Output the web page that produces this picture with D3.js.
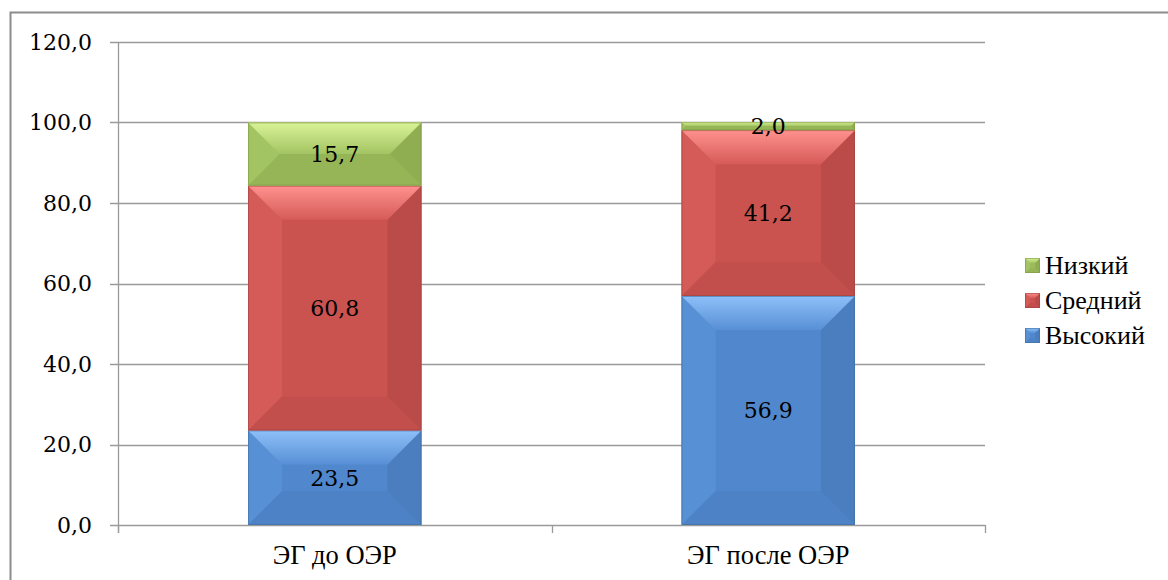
<!DOCTYPE html>
<html>
<head>
<meta charset="utf-8">
<script src="https://cdn.jsdelivr.net/npm/d3@7"></script>
<style>
  body { margin: 0; background: #fff; }
  svg { display: block; }
</style>
</head>
<body>
<svg id="chart" width="1168" height="580"></svg>
<script>
// data
const categories = ['ЭГ до ОЭР', 'ЭГ после ОЭР'];
const seriesNames = ['Высокий', 'Средний', 'Низкий'];
const vysokiy = [23.5, 56.9];
const sredniy = [60.8, 41.2];
const nizkiy = [15.7, 2.0];
const yTicks = [0, 20, 40, 60, 80, 100, 120];

const colors = {
    'Высокий': { base: '#5188cd', light: '#8ec0f8', side: '#5890d6', dark: '#4a7ebf', edge: '#41709f' },
    'Средний': { base: '#ca5350', light: '#ff918e', side: '#d55b58', dark: '#bb4b48', edge: '#a04240' },
    'Низкий':  { base: '#9cbc5a', light: '#d9f397', side: '#a3c462', dark: '#8fae51', edge: '#7d9a45' }
};

const numFont = 'DejaVu Serif';
const textFont = 'Liberation Serif';

const svg = d3.select('#chart');

// outer chart border (runs off the right and bottom of the picture)
svg.append('rect')
    .attr('x', 10.5).attr('y', 12.5)
    .attr('width', 1200).attr('height', 600)
    .attr('fill', 'none')
    .attr('stroke', '#8c8c8c')
    .attr('stroke-width', 2);

const x = d3.scaleBand()
    .domain(categories)
    .range([118, 985])
    .paddingInner(0.6)
    .paddingOuter(0.3);

const y = d3.scaleLinear()
    .domain([0, 120])
    .range([525, 42]);

const gridColor = '#9a9a9a';

// gridlines
svg.append('g')
    .selectAll('line')
    .data(yTicks)
    .join('line')
    .attr('x1', 110).attr('x2', 985)
    .attr('y1', d => Math.round(y(d)) + 0.5)
    .attr('y2', d => Math.round(y(d)) + 0.5)
    .attr('stroke', gridColor)
    .attr('stroke-width', 1.3);

// y axis line
svg.append('line')
    .attr('x1', 118.5).attr('x2', 118.5)
    .attr('y1', y(120)).attr('y2', 533)
    .attr('stroke', gridColor)
    .attr('stroke-width', 1.3);

// category separators on x axis
const sepX = [118, 118 + (985 - 118) / 2, 985];
svg.append('g')
    .selectAll('line')
    .data(sepX)
    .join('line')
    .attr('x1', d => Math.round(d) + 0.5).attr('x2', d => Math.round(d) + 0.5)
    .attr('y1', y(0)).attr('y2', 533)
    .attr('stroke', gridColor)
    .attr('stroke-width', 1.3);

// y tick labels
svg.append('g')
    .selectAll('text')
    .data(yTicks)
    .join('text')
    .attr('x', 92)
    .attr('y', d => y(d))
    .attr('dy', '0.36em')
    .attr('text-anchor', 'end')
    .attr('font-family', numFont)
    .attr('font-size', 22)
    .attr('fill', '#000')
    .text(d => d.toFixed(1).replace('.', ','));

// category labels
svg.append('g')
    .selectAll('text')
    .data(categories)
    .join('text')
    .attr('x', d => x(d) + x.bandwidth() / 2)
    .attr('y', 564)
    .attr('text-anchor', 'middle')
    .attr('font-family', textFont)
    .attr('font-size', 26.5)
    .attr('fill', '#000')
    .text(d => d);

// stacked data
const rows = categories.map((c, i) => ({
    category: c,
    'Высокий': vysokiy[i],
    'Средний': sredniy[i],
    'Низкий': nizkiy[i]
}));
const stacked = d3.stack().keys(seriesNames)(rows);

// gradients for the top bevel facet
const defs = svg.append('defs');
seriesNames.forEach((name, i) => {
    const g = defs.append('linearGradient')
        .attr('id', 'top' + i)
        .attr('x1', 0).attr('y1', 0).attr('x2', 0).attr('y2', 1);
    g.append('stop').attr('offset', '0%').attr('stop-color', colors[name].light);
    g.append('stop').attr('offset', '100%').attr('stop-color', colors[name].side);
});

function bevelBar(g, x0, y0, x1, y1, c, gradId, maxB) {
    const w = x1 - x0, h = y1 - y0;
    const b = Math.min(maxB, h / 2, w / 2);
    const pts = a => a.map(p => p.join(',')).join(' ');
    g.append('rect')
        .attr('x', x0).attr('y', y0).attr('width', w).attr('height', h)
        .attr('fill', c.base);
    g.append('polygon')
        .attr('points', pts([[x0, y0], [x0 + b, y0 + b], [x0 + b, y1 - b], [x0, y1]]))
        .attr('fill', c.side);
    g.append('polygon')
        .attr('points', pts([[x1, y0], [x1 - b, y0 + b], [x1 - b, y1 - b], [x1, y1]]))
        .attr('fill', c.dark);
    g.append('polygon')
        .attr('points', pts([[x0, y1], [x1, y1], [x1 - b, y1 - b], [x0 + b, y1 - b]]))
        .attr('fill', c.dark)
        .attr('opacity', 0.5);
    g.append('polygon')
        .attr('points', pts([[x0, y0], [x1, y0], [x1 - b, y0 + b], [x0 + b, y0 + b]]))
        .attr('fill', 'url(#' + gradId + ')');
    g.append('rect')
        .attr('x', x0 + 0.5).attr('y', y0 + 0.5).attr('width', w - 1).attr('height', h - 1)
        .attr('fill', 'none')
        .attr('stroke', c.edge)
        .attr('stroke-opacity', 0.6);
}

const bars = svg.append('g');
stacked.forEach((layer, si) => {
    const name = seriesNames[si];
    layer.forEach(d => {
        const x0 = x(d.data.category);
        const x1 = x0 + x.bandwidth();
        bevelBar(bars, x0, y(d[1]), x1, y(d[0]), colors[name], 'top' + si, 34);
    });
});

// value labels
stacked.forEach((layer, si) => {
    svg.append('g')
        .selectAll('text')
        .data(layer)
        .join('text')
        .attr('x', d => x(d.data.category) + x.bandwidth() / 2)
        .attr('y', d => (y(d[0]) + y(d[1])) / 2)
        .attr('dy', '0.36em')
        .attr('text-anchor', 'middle')
        .attr('font-family', numFont)
        .attr('font-size', 22)
        .attr('fill', '#000')
        .text(d => (d[1] - d[0]).toFixed(1).replace('.', ','));
});

// legend (top to bottom: Низкий, Средний, Высокий)
const legendItems = seriesNames.slice().reverse();
const legend = svg.append('g');
legendItems.forEach((name, i) => {
    const cy = 265 + i * 35;
    const gi = seriesNames.indexOf(name);
    bevelBar(legend, 1025, cy - 7, 1040, cy + 8, colors[name], 'top' + gi, 5);
    legend.append('text')
        .attr('x', 1045)
        .attr('y', cy)
        .attr('dy', '0.35em')
        .attr('font-family', textFont)
        .attr('font-size', 26)
        .attr('fill', '#000')
        .text(name);
});
</script>
</body>
</html>
